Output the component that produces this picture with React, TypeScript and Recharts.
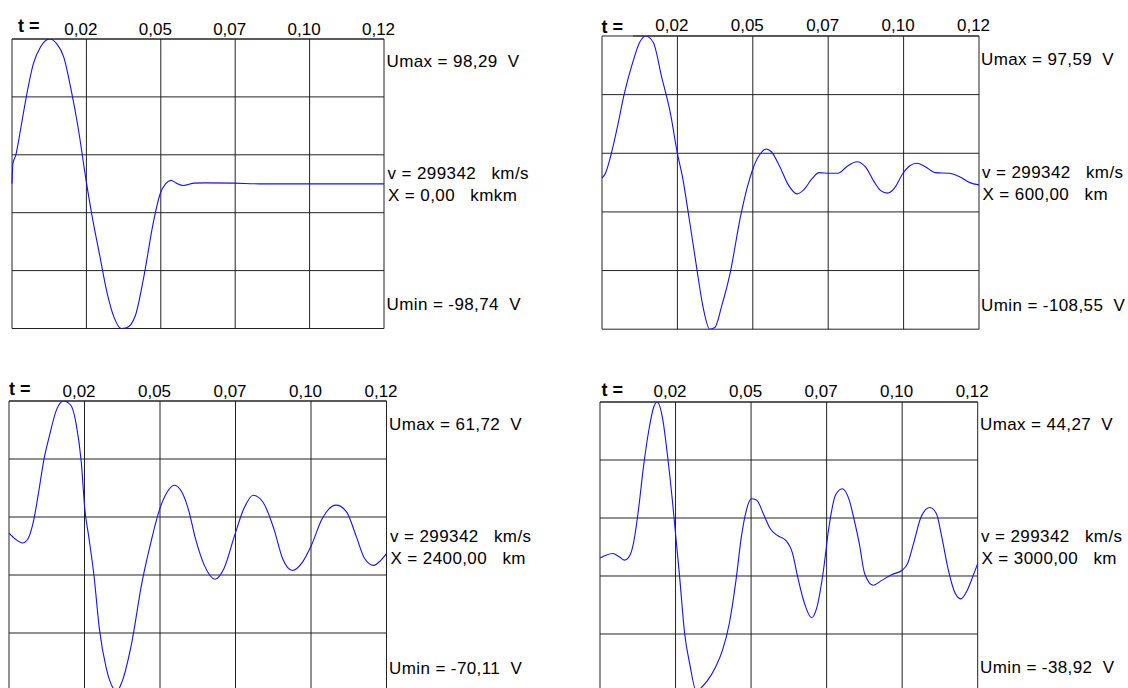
import React from 'react';
import { LineChart, Line, XAxis, YAxis, CartesianGrid, ReferenceLine } from 'recharts';

// time axis (s), shared by all four oscillograms
const X_TICKS = [0, 0.024, 0.048, 0.072, 0.096, 0.12];
const X_TICK_LABELS = ['', '0,02', '0,05', '0,07', '0,10', '0,12'];

// X = 0 km
const T1 = [0, 0.0003, 0.0012, 0.0029, 0.0046, 0.0069, 0.0092, 0.0121, 0.0144, 0.0167, 0.019, 0.0213, 0.0239, 0.0259, 0.0282, 0.0305, 0.0329, 0.0352, 0.0369, 0.0398, 0.0427, 0.0455, 0.0478, 0.0496, 0.0513, 0.053, 0.0553, 0.0588, 0.0623, 0.0715, 0.08, 0.09, 0.1, 0.11, 0.12];
const U1 = [0, 13.4, 19.1, 38.4, 58.8, 81.5, 92.8, 98.29, 95.1, 86.0, 64.5, 38.4, 2.1, -22.9, -47.9, -72.9, -91.0, -98.74, -98.3, -89.9, -61.5, -27.5, -7.0, -0.2, 2.1, 0.2, -1.4, 0.2, 0.4, 0.2, -0.3, -0.3, -0.3, -0.3, -0.3];

// X = 600 km
const T2 = [0, 0.0011, 0.0027, 0.0049, 0.0071, 0.0098, 0.012, 0.0139, 0.0163, 0.019, 0.0218, 0.024, 0.0256, 0.0278, 0.0299, 0.0321, 0.0343, 0.0359, 0.0381, 0.0408, 0.0441, 0.0463, 0.0479, 0.0501, 0.0523, 0.0539, 0.0566, 0.0593, 0.0621, 0.0642, 0.067, 0.0691, 0.0724, 0.0751, 0.0779, 0.0811, 0.0838, 0.0866, 0.0887, 0.0909, 0.0931, 0.0958, 0.098, 0.1002, 0.1029, 0.1062, 0.1105, 0.1138, 0.1171, 0.12];
const U2 = [-2.4, 1.1, 12.7, 33.7, 57.0, 79.2, 93.2, 97.59, 93.2, 68.7, 43.0, 15.0, -1.3, -31.6, -61.9, -92.2, -108.55, -107.4, -92.2, -68.9, -29.2, -8.3, 3.4, 13.9, 18.1, 16.2, 5.7, -7.1, -13.4, -10.6, -2.4, 1.5, 1.1, 1.1, 5.7, 9.2, 5.7, -4.8, -11.1, -12.9, -9.4, 1.1, 6.4, 8.1, 5.7, 1.5, 1.1, -1.3, -5.5, -7.1];

// X = 2400 km
const T3 = [0, 0.002, 0.0043, 0.006, 0.0077, 0.0094, 0.0111, 0.0128, 0.0151, 0.0173, 0.0196, 0.0213, 0.023, 0.0241, 0.0253, 0.027, 0.0287, 0.0309, 0.0343, 0.036, 0.0389, 0.0423, 0.0451, 0.0479, 0.0502, 0.0525, 0.0547, 0.057, 0.0593, 0.0621, 0.0655, 0.0683, 0.0717, 0.0746, 0.0776, 0.0808, 0.0842, 0.087, 0.0901, 0.0933, 0.0961, 0.0995, 0.104, 0.1074, 0.1103, 0.1131, 0.1159, 0.1182, 0.12];
const U3 = [1.7, -1.0, -2.8, -1.0, 6.5, 20.1, 35.1, 45.6, 57.7, 61.72, 59.9, 51.7, 33.6, 12.6, 0.5, -17.5, -41.5, -59.6, -70.11, -65.6, -49.0, -20.5, -2.5, 12.6, 20.1, 23.4, 20.9, 12.6, -1.0, -13.0, -19.3, -14.5, 0.5, 12.6, 18.9, 15.6, 3.6, -10.0, -15.3, -11.5, -4.0, 8.1, 14.4, 11.1, 0.5, -10.0, -13.0, -10.7, -7.7];

// X = 3000 km
const T4 = [0, 0.0019, 0.004, 0.0062, 0.0078, 0.0095, 0.0106, 0.0122, 0.0138, 0.0155, 0.0171, 0.0182, 0.0198, 0.0215, 0.0231, 0.0242, 0.0253, 0.0269, 0.0285, 0.0307, 0.0318, 0.034, 0.0367, 0.0389, 0.0411, 0.0432, 0.0449, 0.0465, 0.0481, 0.0498, 0.0519, 0.0541, 0.0563, 0.059, 0.0612, 0.0628, 0.065, 0.0672, 0.0688, 0.071, 0.0726, 0.0748, 0.077, 0.0792, 0.0808, 0.0824, 0.0841, 0.0868, 0.0895, 0.0928, 0.096, 0.0977, 0.0999, 0.102, 0.1048, 0.1069, 0.1086, 0.1107, 0.1129, 0.1146, 0.1167, 0.1184, 0.12];
const U4 = [-0.5, 0.3, 0.8, -0.2, -1.1, 0.3, 3.6, 13.2, 25.6, 36.1, 42.9, 44.27, 40.0, 28.5, 15.1, 4.6, -5.9, -22.2, -30.8, -38.92, -38.0, -35.8, -31.8, -27.0, -19.2, -6.9, 5.5, 13.2, 16.5, 16.1, 12.2, 7.9, 6.0, 4.6, 0.8, -5.9, -13.6, -17.6, -15.0, -4.0, 7.5, 17.5, 19.4, 16.1, 10.3, 3.6, -5.0, -8.3, -6.9, -5.2, -4.0, -2.1, 4.6, 11.3, 14.0, 12.2, 5.5, -4.0, -10.7, -12.2, -9.7, -5.9, -2.1];

const UMAX = [98.29, 97.59, 61.72, 44.27];
const UMIN = [-98.74, -108.55, -70.11, -38.92];
const UMAX_LABELS = ['Umax = 98,29  V', 'Umax = 97,59  V', 'Umax = 61,72  V', 'Umax = 44,27  V'];
const UMIN_LABELS = ['Umin = -98,74  V', 'Umin = -108,55  V', 'Umin = -70,11  V', 'Umin = -38,92  V'];
const V_LABEL = 'v = 299342   km/s';
const X_LABELS = ['X = 0,00   kmkm', 'X = 600,00   km', 'X = 2400,00   km', 'X = 3000,00   km'];

const SERIES = [
  { t: T1, u: U1 },
  { t: T2, u: U2 },
  { t: T3, u: U3 },
  { t: T4, u: U4 },
];

// plot frame of each panel on the page: left, top, width, height, where the top border starts (t)
const FRAMES = [
  { left: 12, top: 38.5, width: 372, height: 289.5, topFrom: 0, tX: 18, tY: 31.5, textX: 386.5, umaxY: 66.5, vY: 179, xY: 200.5, uminY: 310 },
  { left: 602, top: 35.5, width: 377, height: 293.2, topFrom: 0.0099, tX: 601.5, tY: 32.5, textX: 981, umaxY: 64.5, vY: 178, xY: 199.5, uminY: 310.5 },
  { left: 9, top: 401, width: 377.5, height: 290, topFrom: 0, tX: 9, tY: 395, textX: 389, umaxY: 429.5, vY: 542, xY: 563.5, uminY: 674 },
  { left: 600, top: 401.7, width: 377.7, height: 290, topFrom: 0, tX: 601.5, tY: 395.5, textX: 980, umaxY: 430, vY: 542, xY: 564, uminY: 673 },
];

const FONT = '"Liberation Sans", Arial, sans-serif';
const AXIS_H = 30;
const PAD = 20;

const TimeTick = (props: any) => {
  const { x, y, payload } = props;
  const i = X_TICKS.indexOf(payload.value);
  const label = i >= 0 ? X_TICK_LABELS[i] : '';
  if (!label) return null;
  return (
    <text x={x - 5.5} y={y - 4.5} textAnchor="middle" fontFamily={FONT} fontSize={17} fill="#000">
      {label}
    </text>
  );
};

function Scope({ idx }: { idx: number }) {
  const f = FRAMES[idx];
  const { t, u } = SERIES[idx];
  const data = t.map((tt, i) => ({ t: tt, u: u[i] }));
  const umax = UMAX[idx];
  const umin = UMIN[idx];
  const step = (umax - umin) / 5;
  // horizontal grid levels, top border drawn separately
  const yTicks = [0, 1, 2, 3, 4].map((k) => umin + k * step);

  return (
    <div style={{ position: 'absolute', left: f.left - PAD, top: f.top - AXIS_H, width: f.width + 2 * PAD, height: f.height + AXIS_H + PAD }}>
      <LineChart
        width={f.width + 2 * PAD}
        height={f.height + AXIS_H + PAD}
        data={data}
        margin={{ top: 0, right: PAD, bottom: PAD, left: PAD }}
      >
        <CartesianGrid stroke="#222" strokeWidth={1} />
        <XAxis
          dataKey="t"
          type="number"
          orientation="top"
          domain={[0, 0.12]}
          ticks={X_TICKS}
          interval={0}
          height={AXIS_H}
          axisLine={false}
          tickLine={false}
          tickSize={0}
          tickMargin={0}
          tick={<TimeTick />}
        />
        <YAxis type="number" domain={[umin, umax]} ticks={yTicks} interval={0} allowDataOverflow hide />
        <ReferenceLine
          segment={[{ x: f.topFrom, y: umax }, { x: 0.12, y: umax }]}
          stroke="#222"
          strokeWidth={1}
          ifOverflow="visible"
        />
        <Line
          type="monotone"
          dataKey="u"
          stroke="#1010ff"
          strokeWidth={1.1}
          dot={false}
          isAnimationActive={false}
        />
      </LineChart>
    </div>
  );
}

export default function App() {
  return (
    <div style={{ position: 'absolute', left: 0, top: 0, width: 1128, height: 688, overflow: 'hidden', background: '#fff' }}>
      {FRAMES.map((_, i) => (
        <Scope key={i} idx={i} />
      ))}
      <svg width={1128} height={688} style={{ position: 'absolute', left: 0, top: 0, pointerEvents: 'none' }}>
        {FRAMES.map((f, i) => (
          <g key={i} fontFamily={FONT} fontSize={17} fill="#000">
            <text x={f.tX} y={f.tY} fontWeight="bold" fontSize={18} xmlSpace="preserve">t =</text>
            <text x={f.textX} y={f.umaxY} xmlSpace="preserve" letterSpacing={0.4}>{UMAX_LABELS[i]}</text>
            <text x={f.textX + 1} y={f.vY} xmlSpace="preserve" letterSpacing={0.4}>{V_LABEL}</text>
            <text x={f.textX + 1.5} y={f.xY} xmlSpace="preserve" letterSpacing={0.4}>{X_LABELS[i]}</text>
            <text x={f.textX} y={f.uminY} xmlSpace="preserve" letterSpacing={0.4}>{UMIN_LABELS[i]}</text>
          </g>
        ))}
      </svg>
    </div>
  );
}
